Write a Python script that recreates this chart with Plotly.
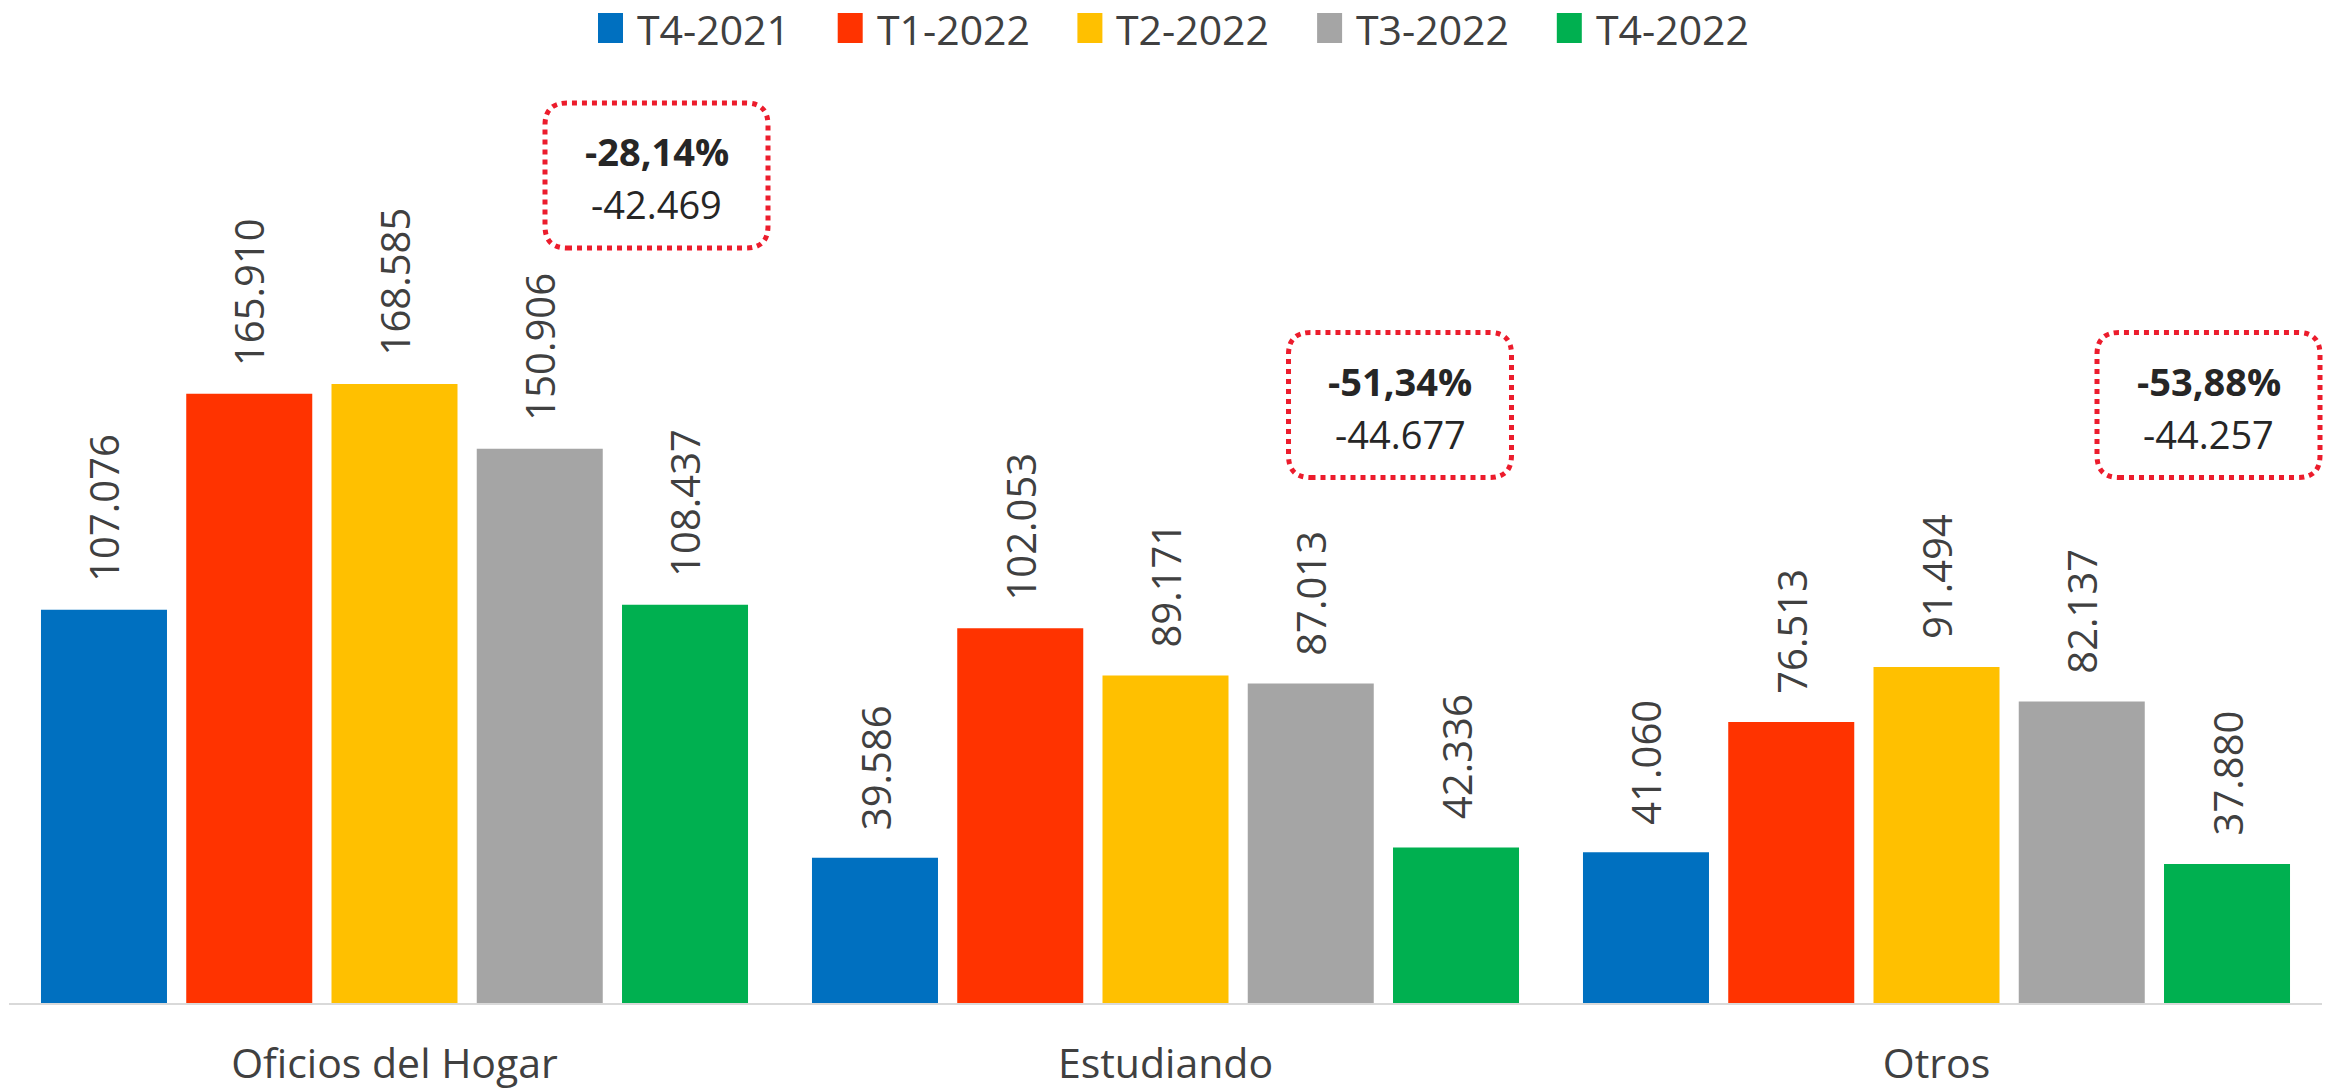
import plotly.graph_objects as go

# ---- data ----
categories = ["Oficios del Hogar", "Estudiando", "Otros"]
series_names = ["T4-2021", "T1-2022", "T2-2022", "T3-2022", "T4-2022"]
t4_2021 = [107076, 39586, 41060]
t1_2022 = [165910, 102053, 76513]
t2_2022 = [168585, 89171, 91494]
t3_2022 = [150906, 87013, 82137]
t4_2022 = [108437, 42336, 37880]
change_pct = ["-28,14%", "-51,34%", "-53,88%"]
change_abs = ["-42.469", "-44.677", "-44.257"]

# ---- style ----
colors = ["#0070C0", "#FF3300", "#FFC000", "#A5A5A5", "#00B050"]
FONT = "Open Sans"
W, H = 2336, 1089
ML, MR, MT, MB = 9, 14, 60, 86
plot_w = W - ML - MR
plot_h = H - MT - MB


def pxx(px):
    return (px - ML) / plot_w


def pxy(py):
    return (H - MB - py) / plot_h


series_values = [t4_2021, t1_2022, t2_2022, t3_2022, t4_2022]

fig = go.Figure()
for name, vals, col in zip(series_names, series_values, colors):
    fig.add_trace(go.Bar(name=name, x=categories, y=vals,
                         marker=dict(color=col, line=dict(width=0))))

cat_w = plot_w / len(categories)
bargap = 0.058
bargroupgap = 0.1325
slot = cat_w * (1 - bargap) / len(series_names)

annotations = []
shapes = []

# value labels above bars
for i, vals in enumerate(series_values):
    for cat, v in zip(categories, vals):
        annotations.append(dict(
            x=cat, y=v, xref="x", yref="y",
            text=f"{v:,}".replace(",", "."),
            textangle=-90, showarrow=False,
            xanchor="center", yanchor="bottom",
            xshift=(i - 2) * slot, yshift=26,
            font=dict(family=FONT, size=40, color="#404040"),
        ))

# legend (drawn: large colour swatches like the original)
leg_x0, leg_pitch, leg_cy = 598, 239.7, 28
for i, (name, col) in enumerate(zip(series_names, colors)):
    sx = leg_x0 + i * leg_pitch
    shapes.append(dict(type="rect", xref="paper", yref="paper",
                       xsizemode="pixel", ysizemode="pixel",
                       xanchor=pxx(sx), yanchor=pxy(leg_cy),
                       x0=0, x1=25, y0=-15, y1=15,
                       fillcolor=col, line=dict(width=0)))
    annotations.append(dict(x=pxx(sx + 37), y=pxy(leg_cy + 1), xref="paper", yref="paper",
                            text=name, showarrow=False, xanchor="left", yanchor="middle",
                            font=dict(family=FONT, size=41, color="#404040")))

# change boxes (pixel centres)
box_centers = [(656.5, 175.5), (1400, 405), (2208.5, 405)]
bw, bh, r = 223, 145, 22
hw, hh = bw / 2, bh / 2
path = (f"M {-hw + r},{-hh} L {hw - r},{-hh} Q {hw},{-hh} {hw},{-hh + r} "
        f"L {hw},{hh - r} Q {hw},{hh} {hw - r},{hh} L {-hw + r},{hh} "
        f"Q {-hw},{hh} {-hw},{hh - r} L {-hw},{-hh + r} Q {-hw},{-hh} {-hw + r},{-hh} Z")
for (cx, cy), pct, ab in zip(box_centers, change_pct, change_abs):
    shapes.append(dict(type="path", path=path, xref="paper", yref="paper",
                       xsizemode="pixel", ysizemode="pixel", xanchor=pxx(cx), yanchor=pxy(cy),
                       line=dict(color="#EC1C2C", width=5, dash="dot")))
    annotations.append(dict(x=pxx(cx), y=pxy(cy - 24), xref="paper", yref="paper",
                            text=f"<b>{pct}</b>", showarrow=False, xanchor="center", yanchor="middle",
                            font=dict(family=FONT, size=38, color="#262626")))
    annotations.append(dict(x=pxx(cx), y=pxy(cy + 29), xref="paper", yref="paper",
                            text=ab, showarrow=False, xanchor="center", yanchor="middle",
                            font=dict(family=FONT, size=38, color="#262626")))

fig.update_layout(
    template="none",
    width=W, height=H,
    margin=dict(l=ML, r=MR, t=MT, b=MB, autoexpand=False),
    paper_bgcolor="white", plot_bgcolor="white",
    barmode="group", bargap=bargap, bargroupgap=bargroupgap,
    font=dict(family=FONT, color="#404040"),
    showlegend=False,
    xaxis=dict(showline=True, linecolor="#D9D9D9", linewidth=2, ticks="", showgrid=False,
               zeroline=False, automargin=False,
               tickfont=dict(family=FONT, size=41, color="#404040"), ticklabelstandoff=24),
    yaxis=dict(visible=False, range=[0, plot_h / 0.003672], showgrid=False, zeroline=False,
               automargin=False),
    shapes=shapes, annotations=annotations,
)

fig.write_html("out.html", config={"displayModeBar": False},
               post_script="document.body.style.margin='0';")
